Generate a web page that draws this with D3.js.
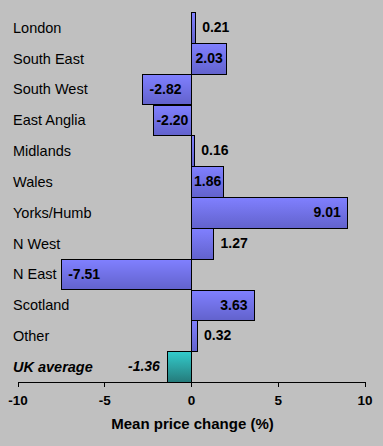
<!DOCTYPE html>
<html><head><meta charset="utf-8">
<script src="https://cdn.jsdelivr.net/npm/d3@7"></script>
<style>body{margin:0;background:#c0c0c0}svg{display:block}</style>
</head><body>
<script>
const regions = ["London","South East","South West","East Anglia","Midlands","Wales","Yorks/Humb","N West","N East","Scotland","Other","UK average"];
const values = [0.21,2.03,-2.82,-2.20,0.16,1.86,9.01,1.27,-7.51,3.63,0.32,-1.36];
const ticks = [-10,-5,0,5,10];
const axisTitle = "Mean price change (%)";

const W=383,H=446;
const svg=d3.select("body").append("svg").attr("width",W).attr("height",H);
svg.append("rect").attr("width",W).attr("height",H).attr("fill","#c0c0c0");
const defs=svg.append("defs");
const g1=defs.append("linearGradient").attr("id","gb").attr("x1",0).attr("y1",0).attr("x2",0).attr("y2",1);
g1.append("stop").attr("offset","0%").attr("stop-color","#8080ff");
g1.append("stop").attr("offset","100%").attr("stop-color","#6262cc");
const g2=defs.append("linearGradient").attr("id","gt").attr("x1",0).attr("y1",0).attr("x2",0).attr("y2",1);
g2.append("stop").attr("offset","0%").attr("stop-color","#33cccc");
g2.append("stop").attr("offset","100%").attr("stop-color","#257a7a");

const x=d3.scaleLinear().domain([-10,10]).range([18,365]);
const y=d3.scaleBand().domain(regions).range([12,382]).padding(0);
const font="Arial, 'Liberation Sans', sans-serif";
const data=regions.map((r,i)=>({r,v:values[i],uk:r==="UK average"}));
const px=v=>Math.floor(x(v))+0.5;

svg.selectAll("rect.bar").data(data).enter().append("rect").attr("class","bar")
 .attr("x",d=>px(Math.min(0,d.v)))
 .attr("y",d=>Math.round(y(d.r))+0.5)
 .attr("width",d=>Math.max(1,px(Math.max(0,d.v))-px(Math.min(0,d.v))))
 .attr("height",d=>Math.round(y(d.r)+y.bandwidth())-Math.round(y(d.r)))
 .attr("fill",d=>d.uk?"url(#gt)":"url(#gb)")
 .attr("stroke","#000").attr("stroke-width",1);

// category labels
svg.selectAll("text.cat").data(data).enter().append("text").attr("class","cat")
 .attr("x",13).attr("y",d=>y(d.r)+y.bandwidth()/2+1.5)
 .attr("dominant-baseline","middle")
 .style("font-family",font).style("font-size","14.5px")
 .style("font-weight",d=>d.uk?"bold":"normal").style("font-style",d=>d.uk?"italic":"normal")
 .text(d=>d.r);

// value labels
svg.selectAll("text.val").data(data).enter().append("text").attr("class","val")
 .attr("y",d=>y(d.r)+y.bandwidth()/2+1)
 .attr("dominant-baseline","middle")
 .style("font-family",font).style("font-size","14px").style("font-weight","bold")
 .style("font-style",d=>d.uk?"italic":"normal")
 .text(d=>d.v.toFixed(2))
 .each(function(d){
   const t=d3.select(this);
   const tw=this.getComputedTextLength();
   const bw=Math.abs(x(d.v)-x(0));
   const end=x(d.v);
   if(tw+4<=bw){
     const pad=Math.min(7,(bw-tw)/2);
     if(d.v>=0) t.attr("x",end-pad).attr("text-anchor","end");
     else t.attr("x",end+pad).attr("text-anchor","start");
   } else {
     if(d.v>=0) t.attr("x",end+7).attr("text-anchor","start");
     else t.attr("x",end-8).attr("text-anchor","end");
   }
 });

// axis
const ax=svg.append("g").attr("transform","translate(0,382)");
ax.append("line").attr("x1",x(-10)).attr("x2",x(10)+1).attr("y1",0.5).attr("y2",0.5).attr("stroke","#000");
ax.selectAll("line.tk").data(ticks).enter().append("line").attr("class","tk")
 .attr("x1",d=>px(d)).attr("x2",d=>px(d)).attr("y1",0).attr("y2",5).attr("stroke","#000");
ax.selectAll("text").data(ticks).enter().append("text")
 .attr("x",d=>x(d)).attr("y",19).attr("text-anchor","middle").attr("dominant-baseline","middle")
 .style("font-family",font).style("font-size","13.5px").style("font-weight","bold")
 .text(d=>d);
svg.append("text").attr("x",x(0)+1).attr("y",425).attr("text-anchor","middle").attr("dominant-baseline","middle")
 .style("font-family",font).style("font-size","15px").style("font-weight","bold").text(axisTitle);
</script>
</body></html>
